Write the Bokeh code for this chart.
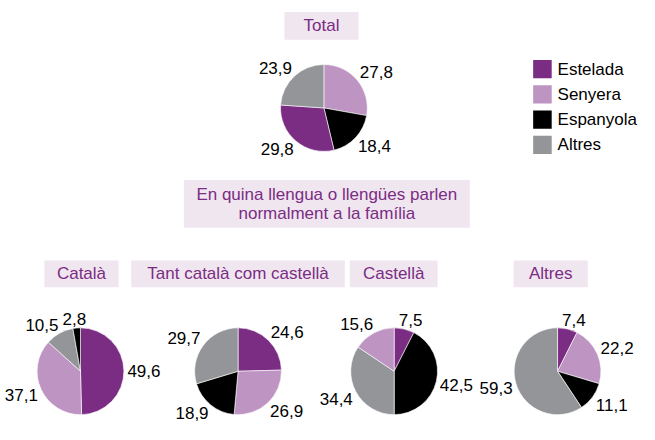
import math
from bokeh.plotting import figure
from bokeh.models import Range1d, ColumnDataSource
from bokeh.core.properties import value
from bokeh.embed import file_html
from bokeh.resources import INLINE

# ---------------- data ----------------
categories = ["Estelada", "Senyera", "Espanyola", "Altres"]
cat_colors = ["#7b2c83", "#bd94c2", "#000000", "#939598"]

group_titles = ["Total", "Català", "Tant català com castellà", "Castellà", "Altres"]
middle_title = ["En quina llengua o llengües parlen", "normalment a la família"]

# values in category order: Estelada, Senyera, Espanyola, Altres
total_vals = [29.8, 27.8, 18.4, 23.9]
catala_vals = [49.6, 37.1, 2.8, 10.5]
tant_vals = [24.6, 26.9, 18.9, 29.7]
castella_vals = [7.5, 15.6, 42.5, 34.4]
altres_vals = [7.4, 22.2, 11.1, 59.3]

# slice order, clockwise from 12 o'clock
total_order = ["Senyera", "Espanyola", "Estelada", "Altres"]
catala_order = ["Estelada", "Senyera", "Altres", "Espanyola"]
tant_order = ["Estelada", "Senyera", "Espanyola", "Altres"]
castella_order = ["Estelada", "Espanyola", "Altres", "Senyera"]
altres_order = ["Estelada", "Senyera", "Espanyola", "Altres"]

# ---------------- layout (reference pixel coords, y down) ----------------
W, H = 655, 442
FONT = "Liberation Sans"
FS = 17
TITLE_COLOR = "#7b2c83"
BOX_COLOR = "#f0e6f0"

def Y(y):
    return H - y

p = figure(width=639, height=424, output_backend="svg", toolbar_location=None,
           x_range=Range1d(0, W), y_range=Range1d(0, H), min_border=0)
p.axis.visible = False
p.grid.visible = False
p.outline_line_color = None
p.background_fill_color = "white"
p.border_fill_color = "white"

# title boxes: (left, right, top, bottom)
boxes = [(291, 367, 12, 41), (45, 121, 271, 299), (134, 353, 271, 299),
         (358, 448, 271, 299), (526, 602, 271, 299)]
p.quad(left=[b[0] for b in boxes], right=[b[1] for b in boxes],
       top=[Y(b[2]) for b in boxes], bottom=[Y(b[3]) for b in boxes],
       fill_color=BOX_COLOR, line_color=None)
p.text(x=[(b[0] + b[1]) / 2 for b in boxes], y=[Y((b[2] + b[3]) / 2) for b in boxes],
       text=group_titles, text_font=value(FONT), text_font_size=f"{FS}px",
       text_color=TITLE_COLOR, text_align="center", text_baseline="middle")

# middle box
p.quad(left=[188], right=[481], top=[Y(187)], bottom=[Y(237)], fill_color=BOX_COLOR, line_color=None)
p.text(x=[334.5, 334.5], y=[Y(202), Y(222)], text=middle_title, text_font=value(FONT),
       text_font_size=f"{FS}px", text_color=TITLE_COLOR, text_align="center",
       text_baseline="middle")

# pies
R = 44.5
LABEL_R = 48.5
pies = [
    (331.5, 112, total_vals, total_order),
    (82, 386.5, catala_vals, catala_order),
    (243.5, 386.5, tant_vals, tant_order),
    (403.5, 386.5, castella_vals, castella_order),
    (571, 386.5, altres_vals, altres_order),
]

def text_w(s):
    return sum(0.556 if ch.isdigit() else 0.278 for ch in s) * FS

def clamp(v):
    return max(-1.0, min(1.0, v))

for cx, cy, vals, order in pies:
    total = sum(vals)
    starts, ends, cols = [], [], []
    lx, ly, lt = [], [], []
    cum = 0.0
    for name in order:
        i = categories.index(name)
        v = vals[i]
        f0 = cum / total
        f1 = (cum + v) / total
        cum += v
        starts.append(math.pi / 2 - 2 * math.pi * f0)
        ends.append(math.pi / 2 - 2 * math.pi * f1)
        cols.append(cat_colors[i])
        mid = 2 * math.pi * (f0 + f1) / 2
        s, c = math.sin(mid), math.cos(mid)
        lab = f"{v:.1f}".replace(".", ",")
        hw = text_w(lab) / 2
        hh = 6
        # nearest corner of the label box sits on the ray at LABEL_R
        px = cx + LABEL_R * s + hw * clamp(s / 0.5)
        py = cy - LABEL_R * c - hh * clamp(c / 0.5)
        lx.append(px)
        ly.append(Y(py))
        lt.append(lab)
    src = ColumnDataSource(dict(x=[cx] * len(order), y=[Y(cy)] * len(order),
                                s=starts, e=ends, c=cols))
    p.wedge(x="x", y="y", radius=R, start_angle="s", end_angle="e", direction="clock",
            fill_color="c", line_color="white", line_width=0.6, source=src)
    p.text(x=lx, y=ly, text=lt, text_font=value(FONT), text_font_size=f"{FS}px",
           text_color="black", text_align="center", text_baseline="middle")

# legend
LX, LY0, STEP, SQ = 546, 62, 26.3, 19
p.quad(left=[LX] * 4, right=[LX + SQ] * 4,
       top=[Y(LY0 + k * STEP) for k in range(4)],
       bottom=[Y(LY0 + k * STEP + SQ) for k in range(4)],
       fill_color=cat_colors, line_color=None)
p.text(x=[LX + SQ + 6] * 4, y=[Y(LY0 + k * STEP + SQ / 2) for k in range(4)],
       text=categories, text_font=value(FONT), text_font_size="17px",
       text_color="black", text_align="left", text_baseline="middle")

open("out.html", "w").write(file_html(p, INLINE))
